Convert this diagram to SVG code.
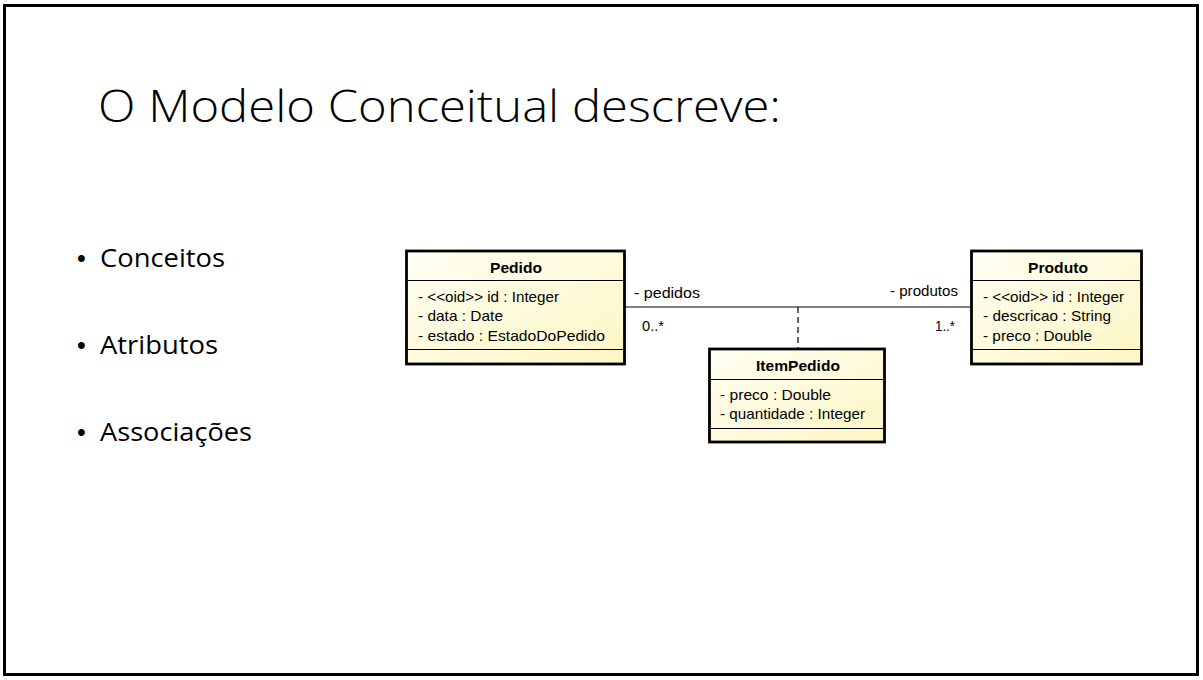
<svg xmlns="http://www.w3.org/2000/svg" width="1203" height="680" viewBox="0 0 1203 680">
<defs>
<linearGradient id="cls" x1="0" y1="0" x2="1" y2="1">
<stop offset="0" stop-color="#fffff4"/>
<stop offset="1" stop-color="#fdf6c4"/>
</linearGradient>
</defs>
<style>
.frame{fill:#fff;stroke:#000;stroke-width:3}
.box{fill:url(#cls);stroke:#000;stroke-width:2.8}
.sep{stroke:#000;stroke-width:1}
.cn{font-family:"Liberation Sans",Arial,sans-serif;font-size:15px;font-weight:bold;fill:#000}
.at{font-family:"Liberation Sans",Arial,sans-serif;font-size:15px;fill:#000}
.title{font-family:"Open Sans",sans-serif;font-weight:300;font-size:44px;fill:#000}
.bul{font-family:"Open Sans",sans-serif;font-size:25px;fill:#000}
.dot{font-family:"Liberation Sans",Arial,sans-serif;font-size:25px;fill:#000}
.ln{stroke:#000;stroke-width:1.2;fill:none}
</style>
<rect class="frame" x="4.5" y="5.5" width="1193" height="669"/>
<text class="title" x="98" y="122" textLength="683" lengthAdjust="spacingAndGlyphs">O Modelo Conceitual descreve:</text>
<g id="bullets">
<text class="dot" x="77" y="267">•</text><text class="bul" x="100" y="267" textLength="125" lengthAdjust="spacingAndGlyphs">Conceitos</text>
<text class="dot" x="77" y="354">•</text><text class="bul" x="100" y="354" textLength="118" lengthAdjust="spacingAndGlyphs">Atributos</text>
<text class="dot" x="77" y="441">•</text><text class="bul" x="100" y="441" textLength="152" lengthAdjust="spacingAndGlyphs">Associações</text>
</g>
<g id="connectors">
<line class="ln" x1="625" y1="307" x2="971" y2="307"/>
<line class="ln" x1="798" y1="307" x2="798" y2="348" stroke-dasharray="6,4"/>
<text class="at" x="634" y="298" textLength="66" lengthAdjust="spacingAndGlyphs">- pedidos</text>
<text class="at" x="890" y="296" textLength="68" lengthAdjust="spacingAndGlyphs">- produtos</text>
<text class="at" x="642" y="331" textLength="22" lengthAdjust="spacingAndGlyphs">0..*</text>
<text class="at" x="935" y="331" textLength="20" lengthAdjust="spacingAndGlyphs">1..*</text>
</g>
<g id="Pedido">
<rect class="box" x="406.5" y="251" width="218" height="113"/>
<line class="sep" x1="406.5" y1="280.5" x2="624.5" y2="280.5"/>
<line class="sep" x1="406.5" y1="349.5" x2="624.5" y2="349.5"/>
<text class="cn" x="490" y="273" textLength="52" lengthAdjust="spacingAndGlyphs">Pedido</text>
<text class="at" x="418" y="302" textLength="141" lengthAdjust="spacingAndGlyphs">- &lt;&lt;oid&gt;&gt; id : Integer</text>
<text class="at" x="418" y="321" textLength="85" lengthAdjust="spacingAndGlyphs">- data : Date</text>
<text class="at" x="418" y="341" textLength="187" lengthAdjust="spacingAndGlyphs">- estado : EstadoDoPedido</text>
</g>
<g id="Produto">
<rect class="box" x="971.5" y="251" width="170" height="113"/>
<line class="sep" x1="971.5" y1="280.5" x2="1141.5" y2="280.5"/>
<line class="sep" x1="971.5" y1="349.5" x2="1141.5" y2="349.5"/>
<text class="cn" x="1028" y="273" textLength="60" lengthAdjust="spacingAndGlyphs">Produto</text>
<text class="at" x="983" y="302" textLength="141" lengthAdjust="spacingAndGlyphs">- &lt;&lt;oid&gt;&gt; id : Integer</text>
<text class="at" x="983" y="321" textLength="128" lengthAdjust="spacingAndGlyphs">- descricao : String</text>
<text class="at" x="983" y="341" textLength="109" lengthAdjust="spacingAndGlyphs">- preco : Double</text>
</g>
<g id="ItemPedido">
<rect class="box" x="709.5" y="349" width="175" height="93"/>
<line class="sep" x1="709.5" y1="379.5" x2="884.5" y2="379.5"/>
<line class="sep" x1="709.5" y1="428.5" x2="884.5" y2="428.5"/>
<text class="cn" x="756" y="371" textLength="84" lengthAdjust="spacingAndGlyphs">ItemPedido</text>
<text class="at" x="720" y="400" textLength="111" lengthAdjust="spacingAndGlyphs">- preco : Double</text>
<text class="at" x="720" y="419" textLength="145" lengthAdjust="spacingAndGlyphs">- quantidade : Integer</text>
</g>
</svg>
